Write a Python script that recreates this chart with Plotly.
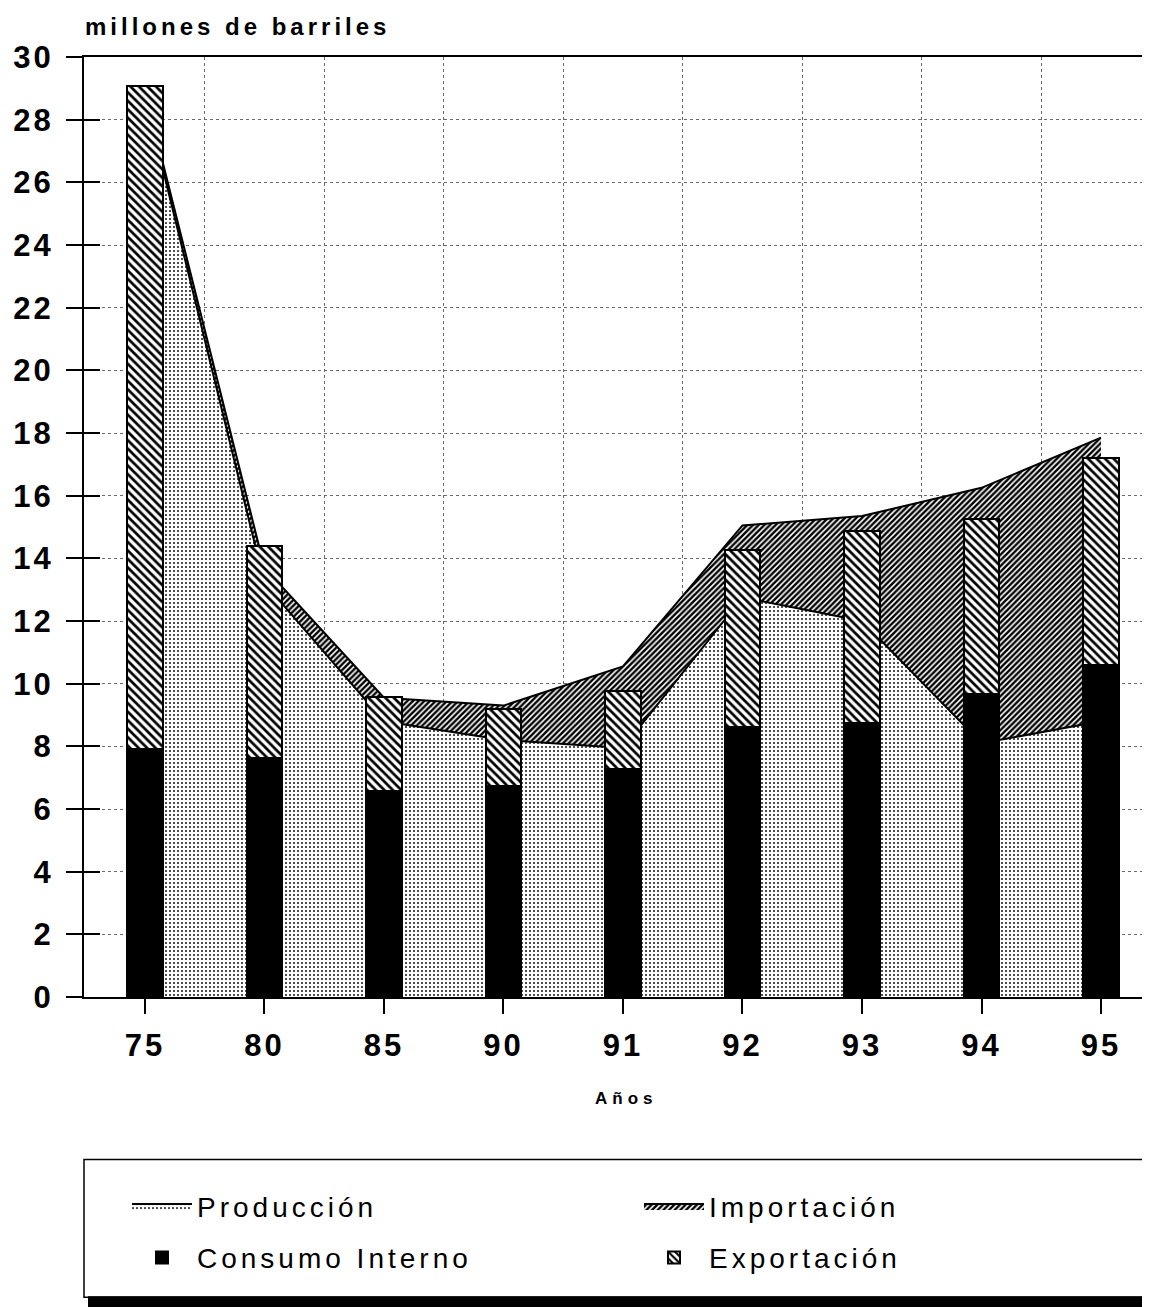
import plotly.graph_objects as go

# ---------------- data ----------------
years = ["75", "80", "85", "90", "91", "92", "93", "94", "95"]
produccion = [28.75, 13.2, 8.8, 8.2, 7.95, 12.75, 12.0, 8.1, 8.8]
importacion = [0.15, 0.5, 0.75, 1.1, 2.6, 2.3, 3.35, 8.15, 9.05]
consumo_interno = [7.9, 7.64, 6.59, 6.72, 7.29, 8.63, 8.76, 9.66, 10.58]
exportacion = [21.16, 6.74, 3.0, 2.46, 2.49, 5.65, 6.1, 5.61, 6.61]
y_ticks = list(range(0, 31, 2))

# ---------------- helpers ----------------
W, H = 1150, 1307
OFF = 8  # page body margin
L, T = 84 - OFF, 57 - OFF
R = OFF
B = H - (997.5 - OFF)
PW, PH = W - L - R, H - T - B


def px_x(p):
    """screen pixel -> paper x"""
    return (p - OFF - L) / PW


def px_y(p):
    """screen pixel -> paper y"""
    return (H - B - (p - OFF)) / PH


def spaced(txt, sp):
    return f'<span style="letter-spacing:{sp}px">{txt}</span>'


idx = list(range(len(years)))
total = [p + i for p, i in zip(produccion, importacion)]
FONT = "Liberation Sans, Arial, sans-serif"

fig = go.Figure()

# Area: Producción
fig.add_trace(go.Scatter(
    x=idx, y=produccion, mode="lines", fill="tozeroy",
    line=dict(color="black", width=2),
    fillcolor="white",
    fillpattern=dict(shape=".", fgcolor="#222222", bgcolor="white",
                     size=4, solidity=0.22, fillmode="replace"),
    name=spaced("Producción", 4), legend="legend", legendgroup="a",
    hoverinfo="skip",
))
# Area: Importación (stacked on producción)
fig.add_trace(go.Scatter(
    x=idx, y=total, mode="lines", fill="tonexty",
    line=dict(color="black", width=2),
    fillcolor="white",
    fillpattern=dict(shape="/", fgcolor="black", bgcolor="white",
                     size=4, solidity=0.6, fillmode="replace"),
    name=spaced("Importación", 4), legend="legend2", legendgroup="b",
    hoverinfo="skip",
))
# Bars on overlay axes so they sit above the areas
fig.add_trace(go.Bar(
    x=idx, y=consumo_interno, width=0.3, xaxis="x2", yaxis="y2",
    marker=dict(color="black", line=dict(color="black", width=2)),
    name=spaced("Consumo Interno", 4), legend="legend", legendgroup="c",
    hoverinfo="skip",
))
fig.add_trace(go.Bar(
    x=idx, y=exportacion, width=0.3, xaxis="x2", yaxis="y2",
    marker=dict(color="white", line=dict(color="black", width=2),
                pattern=dict(shape="\\", fgcolor="black", bgcolor="white",
                             size=6, solidity=0.45, fillmode="replace")),
    name=spaced("Exportación", 4), legend="legend2", legendgroup="d",
    hoverinfo="skip",
))

xr = [-0.51, 8.41]
tick_font = dict(family=FONT, size=31, color="black", weight="bold")
half_positions = [i + 0.5 for i in idx]

fig.update_layout(
    width=W, height=H,
    margin=dict(l=L, r=R, t=T, b=B, pad=0, autoexpand=False),
    paper_bgcolor="white", plot_bgcolor="white",
    barmode="stack",
    font=dict(family=FONT, color="black"),
    xaxis=dict(
        range=xr, tickmode="array", tickvals=idx,
        ticktext=[spaced(y, 3) for y in years],
        ticks="outside", ticklen=15, tickwidth=2, tickcolor="black",
        tickfont=tick_font, ticklabelstandoff=5,
        showline=True, linewidth=2, linecolor="black", mirror=True,
        showgrid=False, zeroline=False,
        minor=dict(tickmode="array", tickvals=half_positions, ticks="",
                   showgrid=True, gridcolor="#6a6a6a", gridwidth=1,
                   griddash="dot"),
    ),
    yaxis=dict(
        range=[0, 30], tickmode="array", tickvals=y_ticks,
        ticktext=[spaced(str(v), 3) for v in y_ticks],
        ticks="outside", ticklen=16, tickwidth=2, tickcolor="black",
        tickfont=tick_font, ticklabelstandoff=6,
        showline=True, linewidth=2, linecolor="black",
        showgrid=True, gridcolor="#6a6a6a", gridwidth=1, griddash="dot",
        zeroline=False,
    ),
    xaxis2=dict(range=xr, overlaying="x", anchor="y2", visible=False),
    yaxis2=dict(
        range=[0, 30], overlaying="y", anchor="x2", side="left",
        tickmode="array", tickvals=y_ticks, showticklabels=False,
        ticks="inside", ticklen=16, tickwidth=2, tickcolor="black",
        showline=False, showgrid=False, zeroline=False,
    ),
    legend=dict(
        x=px_x(127), y=px_y(1182), xanchor="left", yanchor="top",
        orientation="v", traceorder="grouped", tracegroupgap=12,
        itemwidth=60, bgcolor="rgba(0,0,0,0)", borderwidth=0,
        font=dict(family=FONT, size=28, color="black"),
    ),
    legend2=dict(
        x=px_x(639), y=px_y(1182), xanchor="left", yanchor="top",
        orientation="v", traceorder="grouped", tracegroupgap=12,
        itemwidth=60, bgcolor="rgba(0,0,0,0)", borderwidth=0,
        font=dict(family=FONT, size=28, color="black"),
    ),
    annotations=[
        dict(text=spaced("millones de barriles", 4), xref="paper", yref="paper",
             x=px_x(83), y=px_y(26), xanchor="left", yanchor="middle",
             showarrow=False,
             font=dict(family=FONT, size=24, color="black", weight="bold")),
        dict(text=spaced("Años", 5), xref="paper", yref="paper",
             x=px_x(626), y=px_y(1099), xanchor="center", yanchor="middle",
             showarrow=False,
             font=dict(family=FONT, size=17, color="black", weight="bold")),
    ],
    shapes=[
        # legend frame
        dict(type="rect", xref="paper", yref="paper",
             x0=px_x(84), x1=px_x(1170), y0=px_y(1160), y1=px_y(1298),
             line=dict(color="black", width=1.5), fillcolor="rgba(0,0,0,0)",
             layer="below"),
        # drop shadow bar under legend
        dict(type="rect", xref="paper", yref="paper",
             x0=px_x(88), x1=px_x(1170), y0=px_y(1297), y1=px_y(1315),
             line=dict(width=0), fillcolor="black", layer="below"),
    ],
)

fig.write_html("out.html")
